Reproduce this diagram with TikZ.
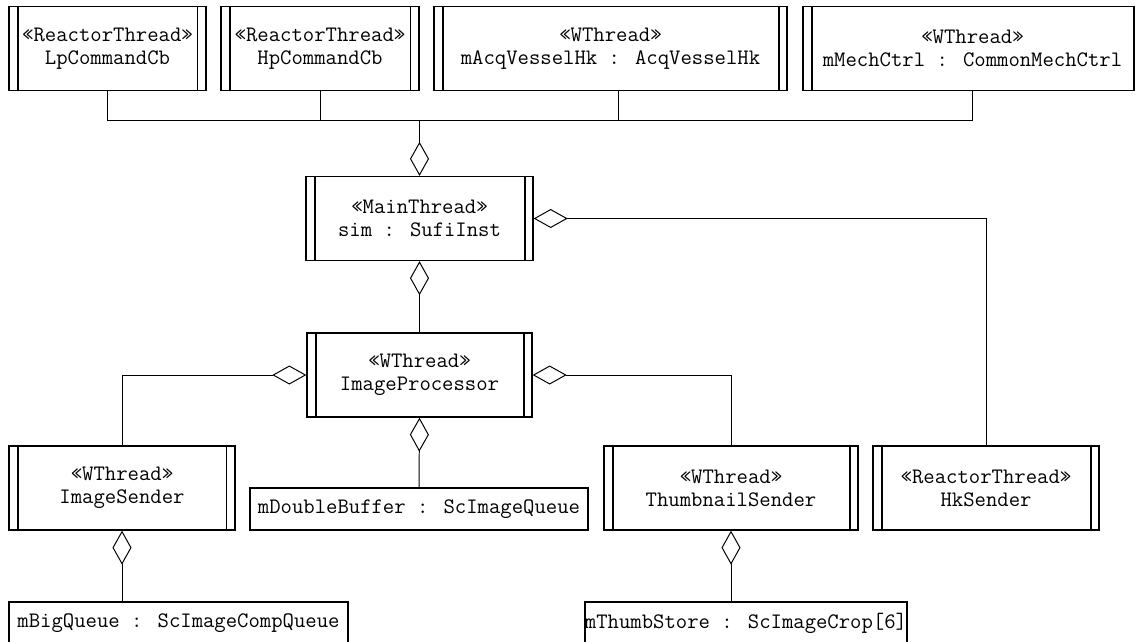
\documentclass[tikz,border=0pt]{standalone}
\usepackage{fontspec}
\usetikzlibrary{arrows.meta}

\begin{document}
\begin{tikzpicture}[x=0.025cm,y=-0.025cm,
    every node/.style={font=\ttfamily\fontsize{15.7}{16.4}\selectfont},
    obj/.style={draw, line width=0.9pt, inner sep=0pt, align=center,
      minimum height=2.1cm, execute at begin node={\rule{0pt}{1.25em}}},
    plain/.style={draw, line width=0.9pt, inner sep=0pt, minimum height=1.05cm},
    conn/.style={line width=0.7pt},
    agg/.style={conn, {Diamond[open,length=0.85cm,width=0.475cm]}-}]
  \path[use as bounding box, clip] (0,0) rectangle (1135,641);
  % top row
  \node[obj, minimum width=4.925cm] (lp) at (107.5,48.5)
  {«ReactorThread»\\LpCommandCb};
  \node[obj, minimum width=4.95cm] (hp) at (320,48.5)
  {«ReactorThread»\\HpCommandCb};
  \node[obj, minimum width=8.825cm] (acq) at (610.5,48.5)
  {«WThread»\\mAcqVesselHk : AcqVesselHk};
  \node[obj, minimum width=8.475cm] (mech) at (972.5,48.5)
  {«WThread»\\mMechCtrl : CommonMechCtrl};
  % middle
  \node[obj, minimum width=5.675cm] (main) at (419.5,218.5)
  {«MainThread»\\sim : SufiInst};
  \node[obj, minimum width=5.625cm] (proc) at (419.5,375)
  {«WThread»\\ImageProcessor};
  % lower row
  \node[obj, minimum width=5.65cm] (isend) at (122,488)
  {«WThread»\\ImageSender};
  \node[plain, minimum width=8.45cm] (dbuf) at (419,509)
  {mDoubleBuffer : ScImageQueue};
  \node[obj, minimum width=6.35cm] (tsend) at (731,488)
  {«WThread»\\ThumbnailSender};
  \node[obj, minimum width=5.65cm] (hk) at (986,488)
  {«ReactorThread»\\HkSender};
  \node[plain, minimum width=8.475cm] (bigq) at (178.5,623)
  {mBigQueue : ScImageCompQueue};
  \node[plain, minimum width=7.8cm] (thumb) at (746,623)
  {mThumbStore : ScImageCrop[6]};
  % active class bars
  \foreach \n in {lp,hp,acq,mech,main,proc,isend,tsend,hk}{
    \draw[line width=0.9pt] ([xshift=0.24cm]\n.north west) -- ([xshift=0.24cm]\n.south west)
      ([xshift=-0.22cm]\n.north east) -- ([xshift=-0.22cm]\n.south east);
  }
  % connectors
  \coordinate (bus) at (419.5,120);
  \draw[conn] (lp.south) |- (bus) (hp.south) |- (bus)
    ([xshift=0.21cm]acq.south) |- (bus) (mech.south) |- (bus);
  \draw[agg] (main.north) -- (bus);
  \draw[agg] (main.south) -- (proc.north);
  \draw[agg] (main.east) -| (hk.north);
  \draw[agg] (proc.west) -| (isend.north);
  \draw[agg] (proc.east) -| (tsend.north);
  \draw[agg] (proc.south) -- (dbuf.north);
  \draw[agg] (isend.south) -- (isend.south |- bigq.north);
  \draw[agg] (tsend.south) -- (tsend.south |- thumb.north);
\end{tikzpicture}
\end{document}
